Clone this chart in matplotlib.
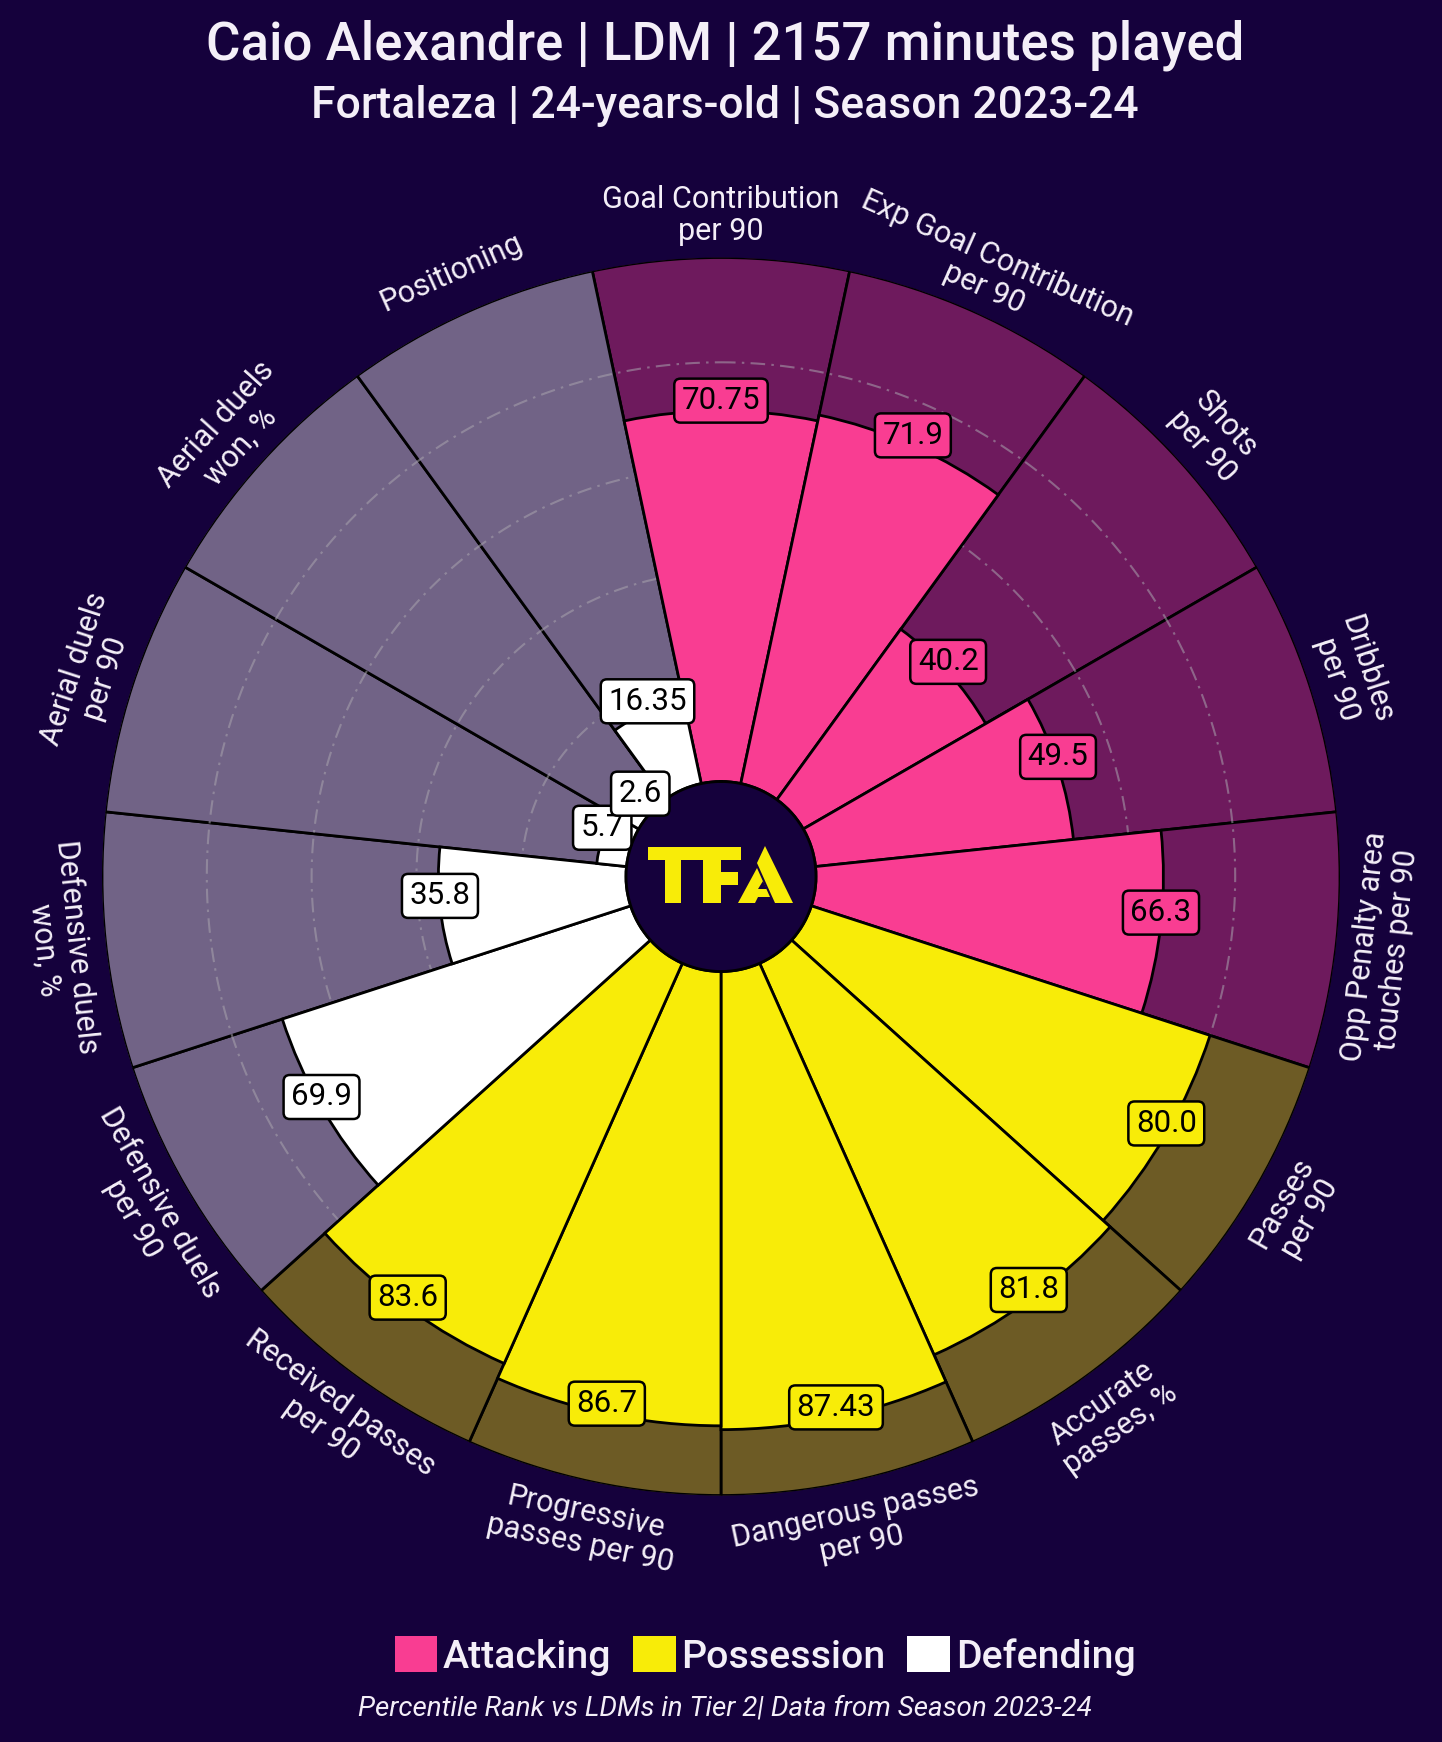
#!/usr/bin/env python3
"""Percentile pizza chart for Caio Alexandre, Fortaleza 2023-24."""

import matplotlib
matplotlib.use("Agg")
import matplotlib.pyplot as plt
from matplotlib.patches import Patch, Polygon
import numpy as np

FIG_W, FIG_H = 1442, 1742

PARAMS = [
    "Goal Contribution\nper 90", "Exp Goal Contribution\nper 90", "Shots\nper 90",
    "Dribbles\nper 90", "Opp Penalty area\ntouches per 90", "Passes\nper 90",
    "Accurate\npasses, %", "Dangerous passes\nper 90", "Progressive\npasses per 90",
    "Received passes\nper 90", "Defensive duels\nper 90", "Defensive duels\nwon, %",
    "Aerial duels\nper 90", "Aerial duels\nwon, %", "Positioning",
]
VALUES = [70.75, 71.9, 40.2, 49.5, 66.3, 80.0, 81.8, 87.43, 86.7, 83.6,
          69.9, 35.8, 5.7, 2.6, 16.35]
VALUE_LABELS = ["70.75", "71.9", "40.2", "49.5", "66.3", "80.0", "81.8", "87.43",
                "86.7", "83.6", "69.9", "35.8", "5.7", "2.6", "16.35"]
GROUPS = ["Attacking"] * 5 + ["Possession"] * 5 + ["Defending"] * 5
GROUP_NAMES = ["Attacking", "Possession", "Defending"]
RINGS = [20, 40, 60, 80]

BG = "#15013c"
FILL = {"Attacking": "#f93d92", "Possession": "#f8ec08", "Defending": "#ffffff"}
BACK = {"Attacking": "#6e1a5d", "Possession": "#6d5b25", "Defending": "#716386"}
TEXT = "#f4eff8"
FONT = "Roboto"

plt.rcParams["font.family"] = [FONT, "DejaVu Sans"]

fig = plt.figure(figsize=(FIG_W / 100, FIG_H / 100), dpi=100, facecolor=BG)

# centre of the pizza at (721, 876.5) px, outer radius 619 px
ax = fig.add_axes([102 / FIG_W, 1 - 1495.5 / FIG_H, 1238 / FIG_W, 1238 / FIG_H],
                  projection="polar", facecolor=BG)
ax.set_theta_zero_location("N")
ax.set_theta_direction(-1)
ax.set_ylim(0, 100)
ax.set_rorigin(-18.13)
ax.grid(False)
ax.set_xticks([])
ax.set_yticks([])
ax.spines["polar"].set_visible(False)

step = 2 * np.pi / len(VALUES)
theta = np.arange(len(VALUES)) * step
back_colors = [BACK[g] for g in GROUPS]
fill_colors = [FILL[g] for g in GROUPS]

ax.bar(theta, [100] * len(VALUES), width=step, color=back_colors,
       edgecolor="black", linewidth=2.0, zorder=1)
circle = np.linspace(0, 2 * np.pi, 361)
for ring in RINGS:
    ax.plot(circle, np.full_like(circle, ring), color="#a9a4ae", lw=1.5,
            ls=(0, (7, 3, 1.2, 3)), alpha=0.55, zorder=2)
ax.bar(theta, VALUES, width=step, color=fill_colors,
       edgecolor="black", linewidth=2.0, zorder=3)

# hole outline
ax.plot(circle, np.zeros_like(circle), color="black", lw=2.0, zorder=4, clip_on=False)

for t, v, lab, g in zip(theta, VALUES, VALUE_LABELS, GROUPS):
    ax.annotate(lab, (t, v), xytext=(0, 7.3), textcoords="offset points",
                ha="center", va="center", fontsize=22.5, color="black", zorder=6,
                bbox=dict(boxstyle="round,pad=0.24,rounding_size=0.2",
                          facecolor=FILL[g], edgecolor="black", linewidth=1.8))

for t, name in zip(theta, PARAMS):
    deg = np.degrees(t)
    rot = -deg if deg < 90 or deg > 270 else 180 - deg
    ax.annotate(name, (t, 108.5), xytext=(0, -2), textcoords="offset points",
                ha="center", va="center", rotation=rot, rotation_mode="anchor",
                fontsize=22, color=TEXT, annotation_clip=False, linespacing=1.13)

# TFA logo, pixel outline
LOGO = [
    [(648, 847), (697, 847), (697, 860), (681, 860), (681, 903), (665, 903), (665, 860), (648, 860)],
    [(697, 847), (741, 847), (741, 860), (721, 860), (721, 872), (738, 872), (738, 885), (721, 885), (721, 903), (703, 903), (703, 860), (697, 860)],
    [(765, 846), (793, 903), (775, 903), (757, 863)],
    [(757, 868), (770, 897), (758, 897), (755, 903), (738, 903)],
]
for pts in LOGO:
    fig.add_artist(Polygon([(x / FIG_W, 1 - y / FIG_H) for x, y in pts], closed=True,
                           transform=fig.transFigure, facecolor=FILL["Possession"],
                           edgecolor="none", zorder=10))
fig.add_artist(Polygon([(x / FIG_W, 1 - y / FIG_H) for x, y in [(763, 881), (758, 889), (767, 889)]],
                       closed=True, transform=fig.transFigure, facecolor=BG,
                       edgecolor="none", zorder=11))

fig.text(725 / FIG_W, 1 - 45 / FIG_H, "Caio Alexandre | LDM | 2157 minutes played",
         ha="center", va="center", fontsize=38, fontweight="medium", color=TEXT)
fig.text(725 / FIG_W, 1 - 106 / FIG_H, "Fortaleza | 24-years-old | Season 2023-24",
         ha="center", va="center", fontsize=32, fontweight="medium", color=TEXT)

handles = [Patch(facecolor=FILL[g], edgecolor="none", label=g) for g in GROUP_NAMES]
fig.legend(handles=handles, loc="center", bbox_to_anchor=(765 / FIG_W, 1 - 1656 / FIG_H),
           ncol=3, frameon=False, labelcolor=TEXT, handlelength=1.08,
           handleheight=1.0, handletextpad=0.15, columnspacing=0.55,
           prop={"family": FONT, "size": 28.3, "weight": "medium"})
fig.text(725 / FIG_W, 1 - 1708 / FIG_H,
         "Percentile Rank vs LDMs in Tier 2| Data from Season 2023-24",
         ha="center", va="center", fontsize=20, fontstyle="italic", color=TEXT)

fig.savefig("out.png", dpi=100, facecolor=BG)
